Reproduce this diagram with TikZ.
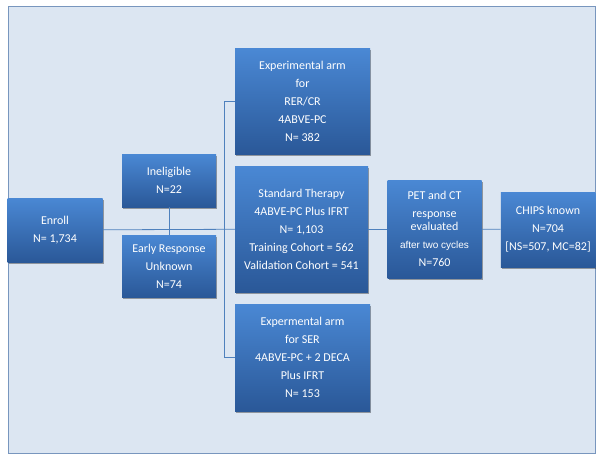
\documentclass[tikz,border=0pt]{standalone}
\usepackage{fontspec}
\setmainfont{Carlito}
\newfontfamily\arialfont{Liberation Sans}
\usetikzlibrary{shadows}
\definecolor{framefill}{RGB}{220,230,242}
\definecolor{framedraw}{RGB}{120,150,190}
\definecolor{boxtop}{RGB}{74,136,212}
\definecolor{boxbottom}{RGB}{42,88,152}
\definecolor{linkcol}{RGB}{79,129,189}

\begin{document}
\begin{tikzpicture}[x=1pt, y=-1pt, node distance=114pt,
                    main node/.style={rectangle, top color=boxtop, bottom color=boxbottom,
                      draw=none, text=white, align=center, inner sep=0pt,
                      font=\fontsize{12}{18}\selectfont,
                      drop shadow={shadow xshift=1pt, shadow yshift=-1.5pt, fill=black, opacity=.35}},
                    link/.style={draw=linkcol, line width=0.8pt}]

  \useasboundingbox (0,0) rectangle (604,460);
  \draw[fill=framefill, draw=framedraw, line width=0.6pt] (8,6.5) rectangle (595.5,453);

  \node[main node, minimum width=95pt, minimum height=64pt] (1) at (55,230) {Enroll\\N= 1,734};
  \node[main node, minimum width=94pt, minimum height=53pt] (2) [right of=1, yshift=49.5pt] {Ineligible\\N=22};
  \node[main node, minimum width=94pt, minimum height=62pt] (3) [right of=1, yshift=-36pt] {Early Response\\Unknown\\N=74};
  \node[main node, minimum width=135pt, minimum height=105pt] (4) at (302.5,101.5) {Experimental arm\\for\\RER/CR\\4ABVE-PC\\N= 382};
  \node[main node, minimum width=133pt, minimum height=126pt] (5) at (301.5,229) {Standard Therapy\\4ABVE-PC Plus IFRT\\N= 1,103\\Training Cohort = 562\\Validation Cohort = 541};
  \node[main node, minimum width=135pt, minimum height=107pt] (6) at (302.5,357.5) {Expermental arm\\for SER\\4ABVE-PC + 2 DECA\\Plus IFRT\\N= 153};
  \node[main node, minimum width=94pt, minimum height=98pt] (7) at (434.5,229) {PET and CT\\response\\[-5pt]evaluated\\{\arialfont\fontsize{10}{18}\selectfont after two cycles}\\N=760};
  \node[main node, minimum width=94.5pt, minimum height=75pt] (8) at (548,229.5) {CHIPS known\\N=704\\{[}NS=507, MC=82{]}};

  \path[link]
    (1) edge (5)
    (2) edge (3)
    (5) edge (7)
    (7) edge (8);
  \draw[link] (4.west) -- ++(-10,0) |- (6.west);

\end{tikzpicture}
\end{document}
